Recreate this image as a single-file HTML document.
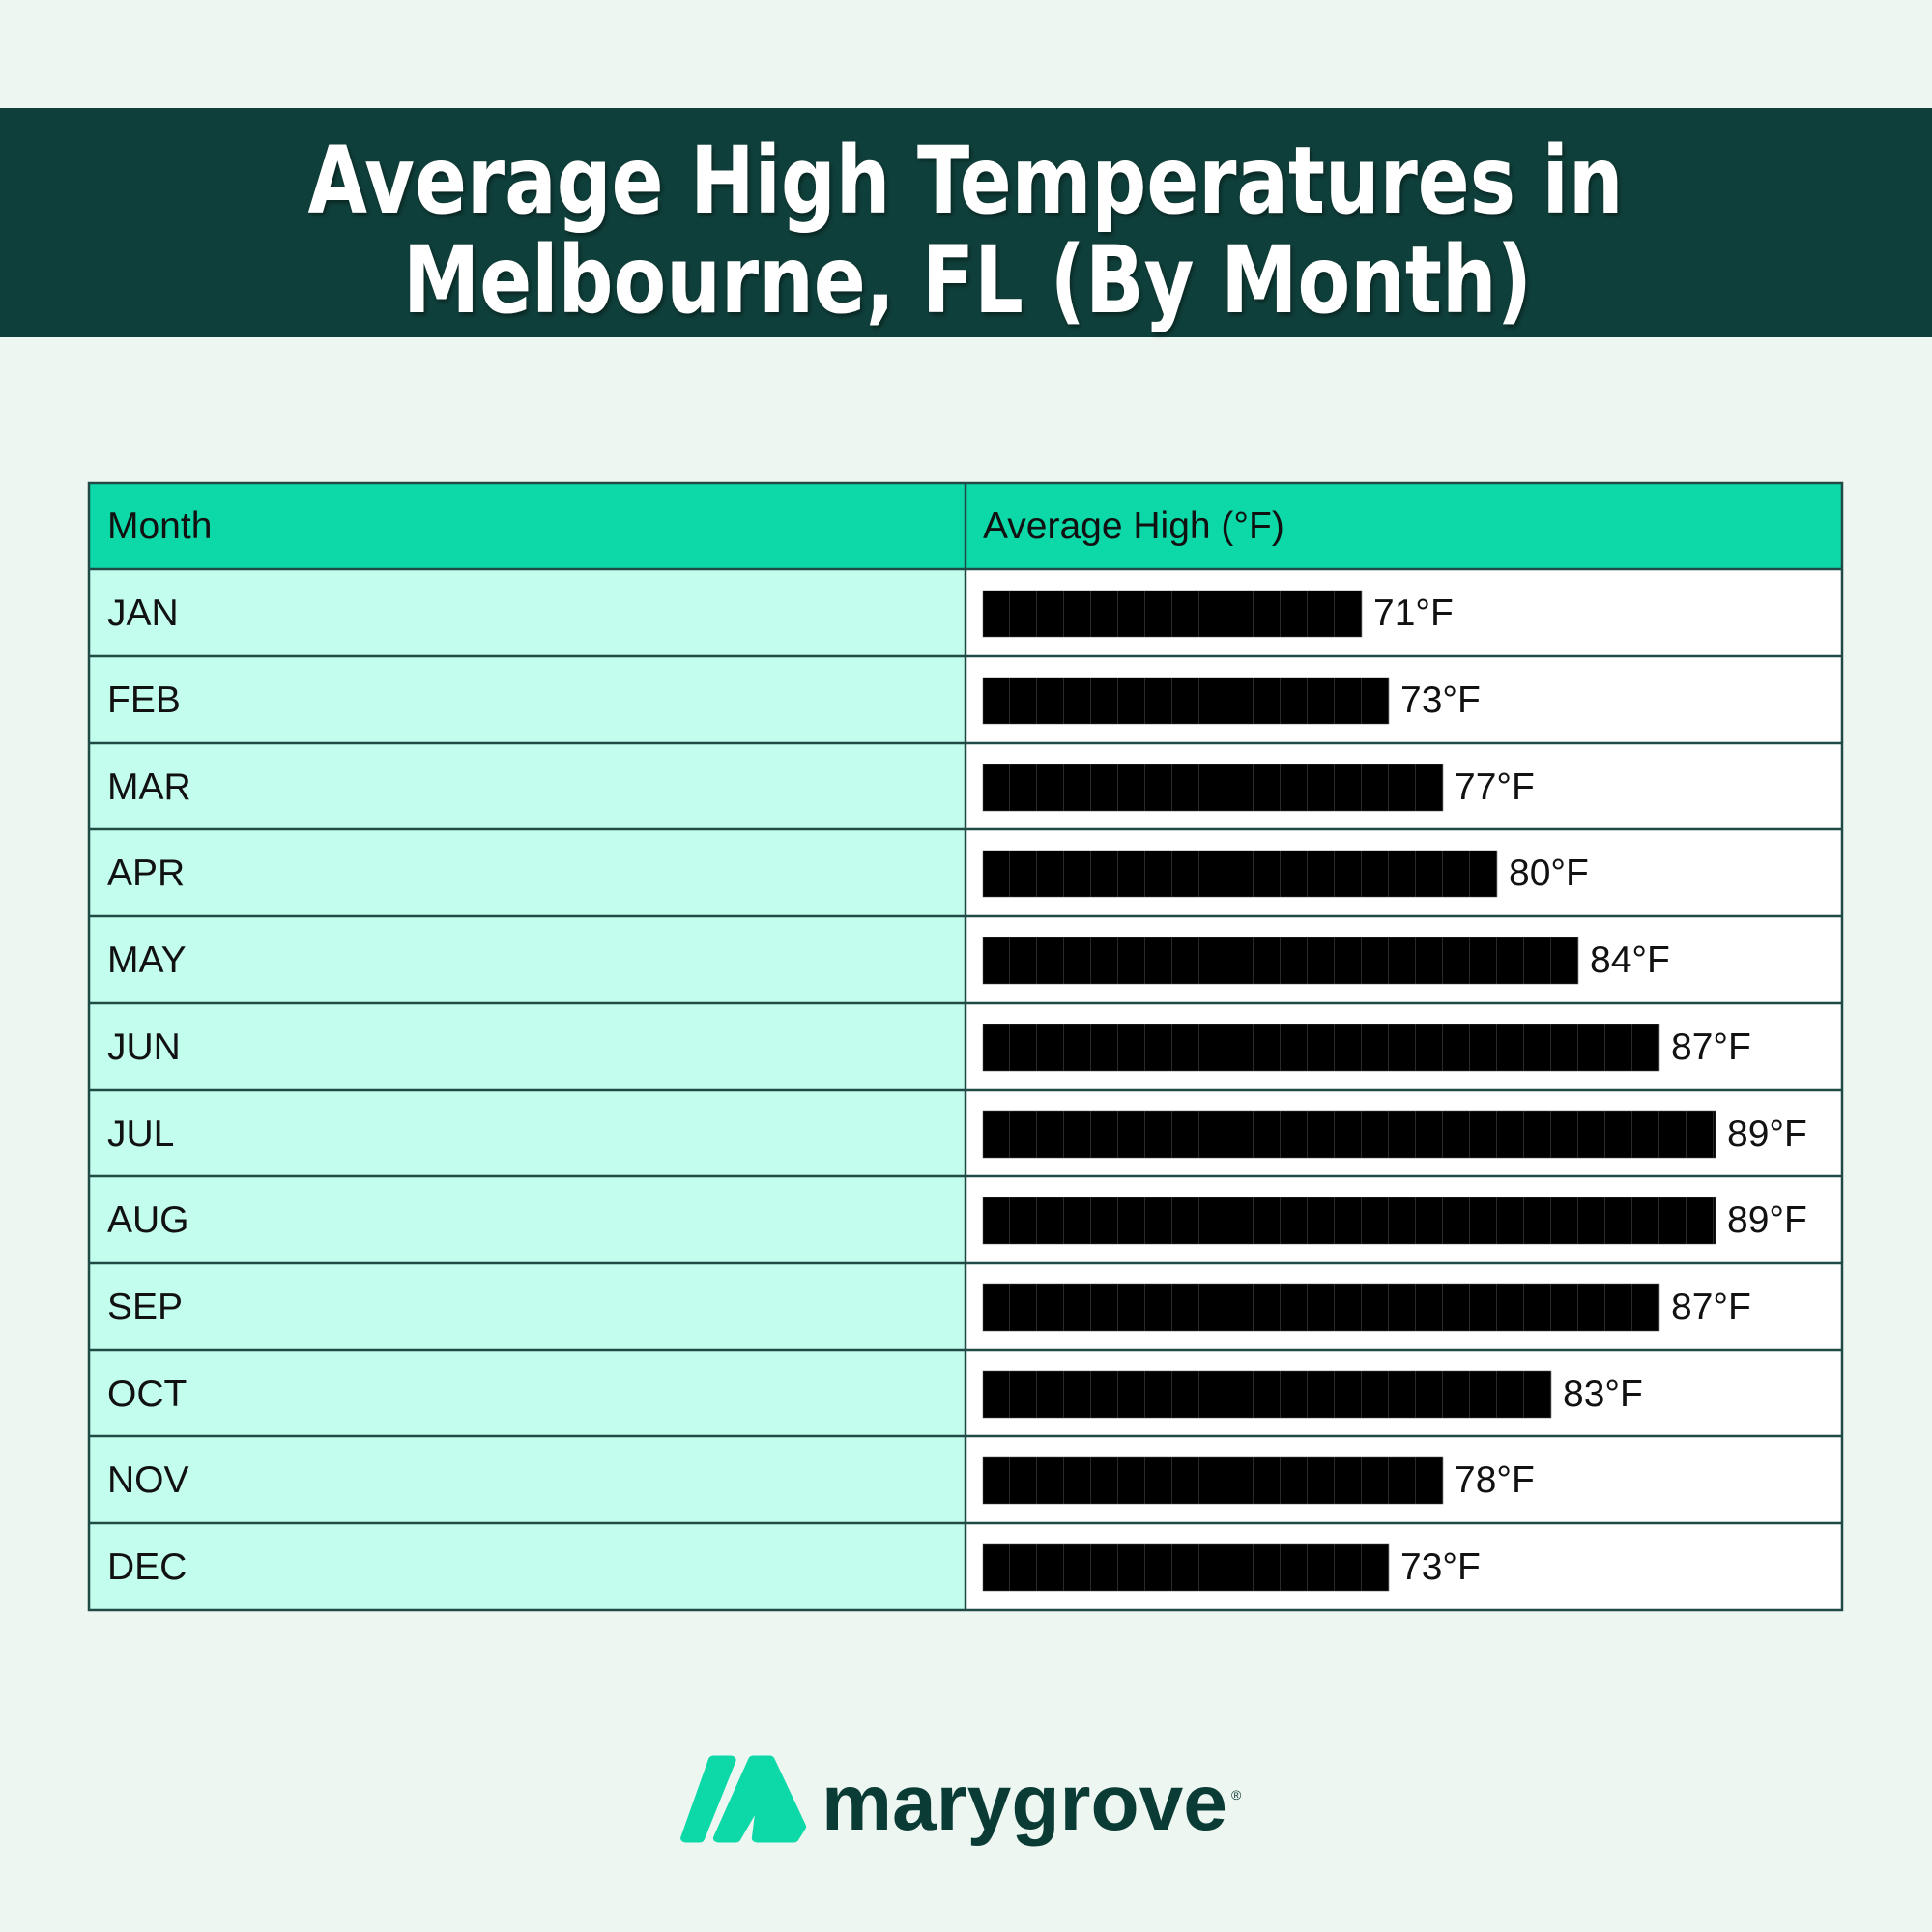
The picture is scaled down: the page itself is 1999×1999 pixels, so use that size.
<!DOCTYPE html>
<html><head><meta charset="utf-8"><style>
html,body{margin:0;padding:0;background:#eef6f1;}
svg{display:block;}
</style></head><body>
<svg width="1999" height="1999" viewBox="0 0 1999 1999" xmlns="http://www.w3.org/2000/svg">
<defs>
<pattern id="seg" x="1017" y="0" width="28" height="10" patternUnits="userSpaceOnUse">
<rect width="28" height="10" fill="#000"/><rect x="27" width="1" height="10" fill="#2a2a2a"/>
</pattern>
<filter id="sh"><feDropShadow dx="2" dy="3" stdDeviation="2" flood-color="#000" flood-opacity="0.4"/></filter>
</defs>
<rect width="1999" height="1999" fill="#eef6f1"/>
<rect x="0" y="112" width="1999" height="237" fill="#0f3f3a"/>
<g font-family="DejaVu Sans, sans-serif" font-weight="bold" font-size="96" fill="#fff" text-anchor="middle" filter="url(#sh)">
<text x="999" y="220" textLength="1361" lengthAdjust="spacingAndGlyphs">Average High Temperatures in</text>
<text x="1001" y="323" textLength="1168" lengthAdjust="spacingAndGlyphs">Melbourne, FL (By Month)</text>
</g>
<rect x="92" y="500" width="1814" height="89" fill="#0dd9a8"/>
<rect x="92" y="589" width="907" height="1077" fill="#c2fded"/>
<rect x="999" y="589" width="907" height="1077" fill="#fff"/>
<g fill="url(#seg)" stroke="#555" stroke-width="0.5">
<rect x="1017" y="611" width="392" height="48"/>
<rect x="1017" y="701" width="420" height="48"/>
<rect x="1017" y="791" width="476" height="48"/>
<rect x="1017" y="880" width="532" height="48"/>
<rect x="1017" y="970" width="616" height="48"/>
<rect x="1017" y="1060" width="700" height="48"/>
<rect x="1017" y="1150" width="758" height="48"/>
<rect x="1017" y="1239" width="758" height="48"/>
<rect x="1017" y="1329" width="700" height="48"/>
<rect x="1017" y="1419" width="588" height="48"/>
<rect x="1017" y="1508" width="476" height="48"/>
<rect x="1017" y="1598" width="420" height="48"/>
</g>
<g stroke="#1f4a45" stroke-width="2.5" fill="none">
<rect x="92" y="500" width="1814" height="1166"/>
<line x1="999" y1="500" x2="999" y2="1666"/>
<line x1="92" y1="589" x2="1906" y2="589"/>
<line x1="92" y1="679" x2="1906" y2="679"/>
<line x1="92" y1="769" x2="1906" y2="769"/>
<line x1="92" y1="858" x2="1906" y2="858"/>
<line x1="92" y1="948" x2="1906" y2="948"/>
<line x1="92" y1="1038" x2="1906" y2="1038"/>
<line x1="92" y1="1128" x2="1906" y2="1128"/>
<line x1="92" y1="1217" x2="1906" y2="1217"/>
<line x1="92" y1="1307" x2="1906" y2="1307"/>
<line x1="92" y1="1397" x2="1906" y2="1397"/>
<line x1="92" y1="1486" x2="1906" y2="1486"/>
<line x1="92" y1="1576" x2="1906" y2="1576"/>
</g>
<g font-family="Liberation Sans, sans-serif" font-size="39" fill="#111">
<text x="111" y="557">Month</text>
<text x="1017" y="557">Average High (°F)</text>
<text x="111" y="647">JAN</text>
<text x="111" y="737">FEB</text>
<text x="111" y="827">MAR</text>
<text x="111" y="916">APR</text>
<text x="111" y="1006">MAY</text>
<text x="111" y="1096">JUN</text>
<text x="111" y="1186">JUL</text>
<text x="111" y="1275">AUG</text>
<text x="111" y="1365">SEP</text>
<text x="111" y="1455">OCT</text>
<text x="111" y="1544">NOV</text>
<text x="111" y="1634">DEC</text>
<text x="1421" y="647">71°F</text>
<text x="1449" y="737">73°F</text>
<text x="1505" y="827">77°F</text>
<text x="1561" y="916">80°F</text>
<text x="1645" y="1006">84°F</text>
<text x="1729" y="1096">87°F</text>
<text x="1787" y="1186">89°F</text>
<text x="1787" y="1275">89°F</text>
<text x="1729" y="1365">87°F</text>
<text x="1617" y="1455">83°F</text>
<text x="1505" y="1544">78°F</text>
<text x="1449" y="1634">73°F</text>
</g>
<g transform="translate(676,1780) scale(1.25,1)" fill="#0dd9a8" stroke="#0dd9a8" stroke-width="9" stroke-linejoin="round">
<polygon points="50,41 64,41 38,122 27,122"/>
<polygon points="83,41 96,41 122,110 116,122 86,122 91,72 68,122 54,122"/>
</g>
<text x="850" y="1893" font-family="Liberation Sans, sans-serif" font-weight="bold" font-size="82" fill="#0b3b35" textLength="420" lengthAdjust="spacingAndGlyphs">marygrove</text>
<text x="1274" y="1862" font-family="Liberation Sans, sans-serif" font-size="14" fill="#0b3b35">®</text>
</svg>
</body></html>
